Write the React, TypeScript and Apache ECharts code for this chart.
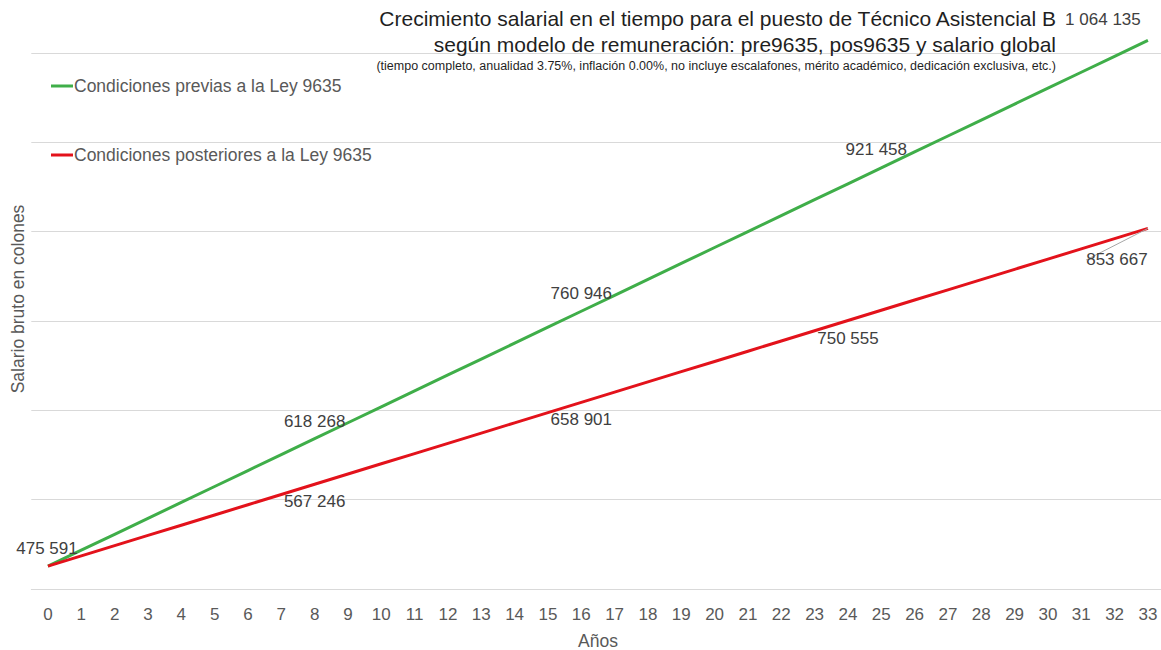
import React, { useEffect, useRef } from "react";
import * as echarts from "echarts";

const years: string[] = [
  "0","1","2","3","4","5","6","7","8","9","10","11","12","13","14","15","16",
  "17","18","19","20","21","22","23","24","25","26","27","28","29","30","31","32","33",
];

const preLey: number[] = [
  475591, 493426, 511260, 529095, 546930, 564764, 582599, 600434, 618268, 636103,
  653938, 671772, 689607, 707442, 725276, 743111, 760946, 778780, 796615, 814450,
  832284, 850119, 867954, 885788, 903623, 921458, 939292, 957127, 974961, 992796,
  1010631, 1028465, 1046300, 1064135,
];

const posLey: number[] = [
  475591, 487048, 498505, 509962, 521418, 532875, 544332, 555789, 567246, 578703,
  590160, 601617, 613073, 624530, 635987, 647444, 658901, 670358, 681815, 693272,
  704728, 716185, 727642, 739099, 750555, 762013, 773470, 784926, 796383, 807840,
  819297, 830754, 842211, 853667,
];

const preLabelIdx: number[] = [0, 8, 16, 25, 33];
const posLabelIdx: number[] = [8, 16, 24, 33];

const seriesNames: string[] = [
  "Condiciones previas a la Ley 9635",
  "Condiciones posteriores a la Ley 9635",
];

const titleLines: string[] = [
  "Crecimiento salarial en el tiempo para el puesto de Técnico Asistencial B",
  "según modelo de remuneración: pre9635, pos9635 y salario global",
];
const subTitle =
  "(tiempo completo, anualidad 3.75%, inflación 0.00%, no incluye escalafones, mérito académico, dedicación exclusiva, etc.)";

const yAxisName = "Salario bruto en colones";
const xAxisName = "Años";

const FONT = "'Liberation Sans', Arial, sans-serif";
const GREEN = "#3fae49";
const RED = "#e3121b";
const GREY = "#595959";
const LABEL = "#404040";

const fmt = (v: number) =>
  Math.round(v).toString().replace(/\B(?=(\d{3})+(?!\d))/g, " ");

export default function App() {
  const ref = useRef<HTMLDivElement>(null);

  useEffect(() => {
    if (!ref.current) return;
    const chart = echarts.init(ref.current, undefined, { renderer: "svg" });

    const last = years.length - 1;

    const preData = preLey.map((v, i) => {
      if (!preLabelIdx.includes(i)) return { value: v };
      const label: any = { show: true, position: "top", distance: 9 };
      if (i === 25) label.offset = [-5, -1];
      if (i === 0) label.offset = [-1, 0];
      if (i === last) label.offset = [-45, -3];
      return { value: v, label };
    });

    const posData = posLey.map((v, i) => {
      if (!posLabelIdx.includes(i)) return { value: v };
      const label: any = { show: true, position: "bottom", distance: 9 };
      if (i === last) {
        return {
          value: v,
          label,
          labelLine: { show: true, lineStyle: { color: "#a6a6a6", width: 1 } },
        };
      }
      return { value: v, label };
    });

    const labelBase = {
      show: false,
      color: LABEL,
      fontSize: 17,
      fontFamily: FONT,
      formatter: (p: any) => fmt(p.value),
    };

    chart.setOption({
      animation: false,
      backgroundColor: "#ffffff",
      title: {
        text: titleLines.join("\n"),
        subtext: subTitle,
        left: 1056,
        textAlign: "right",
        top: 5,
        itemGap: 2,
        padding: 0,
        textStyle: {
          fontSize: 21,
          fontWeight: "normal",
          color: "#1f1f1f",
          fontFamily: FONT,
          lineHeight: 26,
        },
        subtextStyle: {
          fontSize: 12.5,
          color: "#1f1f1f",
          fontFamily: FONT,
        },
      },
      legend: {
        orient: "vertical",
        left: 51,
        top: 77,
        padding: 0,
        itemGap: 51,
        itemWidth: 22,
        itemHeight: 3,
        selectedMode: false,
        data: seriesNames.map((n) => ({ name: n, icon: "rect" })),
        textStyle: { color: GREY, fontSize: 17.5, fontFamily: FONT, padding: [0, 0, 0, -4] },
      },
      grid: {
        left: 31.3,
        width: 1133.3,
        top: -36.3,
        bottom: 61,
        containLabel: false,
        outerBoundsMode: "none",
      },
      xAxis: {
        type: "category",
        data: years,
        boundaryGap: true,
        name: xAxisName,
        nameLocation: "middle",
        nameGap: 43,
        nameTextStyle: { color: GREY, fontSize: 17.5, fontFamily: FONT },
        axisLine: { show: true, lineStyle: { color: "#d9d9d9", width: 1 } },
        axisTick: { show: false },
        axisLabel: {
          color: GREY,
          fontSize: 17,
          fontFamily: FONT,
          margin: 17,
          interval: 0,
        },
        splitLine: { show: false },
      },
      yAxis: {
        type: "value",
        min: 450000,
        max: 1150000,
        interval: 100000,
        axisLine: { show: false },
        axisTick: { show: false },
        axisLabel: { show: false },
        splitLine: { show: true, lineStyle: { color: "#d9d9d9", width: 1 } },
      },
      graphic: [
        {
          type: "text",
          x: 18,
          y: 299,
          rotation: Math.PI / 2,
          style: {
            text: yAxisName,
            fill: GREY,
            fontSize: 17.5,
            fontFamily: FONT,
            align: "center",
            verticalAlign: "middle",
          },
        },
      ],
      series: [
        {
          name: seriesNames[0],
          type: "line",
          data: preData,
          symbol: "circle",
          symbolSize: 0,
          showSymbol: true,
          clip: false,
          z: 3,
          lineStyle: { color: GREEN, width: 3 },
          itemStyle: { color: GREEN },
          label: labelBase,
        },
        {
          name: seriesNames[1],
          type: "line",
          data: posData,
          symbol: "circle",
          symbolSize: 0,
          showSymbol: true,
          clip: false,
          z: 4,
          lineStyle: { color: RED, width: 3 },
          itemStyle: { color: RED },
          label: labelBase,
          labelLayout: (params: any) =>
            params.dataIndex === last ? { dx: -31, dy: 14 } : {},
        },
      ],
    });

    return () => chart.dispose();
  }, []);

  return (
    <div
      ref={ref}
      style={{ position: "absolute", left: 0, top: 0, width: 1161, height: 650 }}
    />
  );
}
